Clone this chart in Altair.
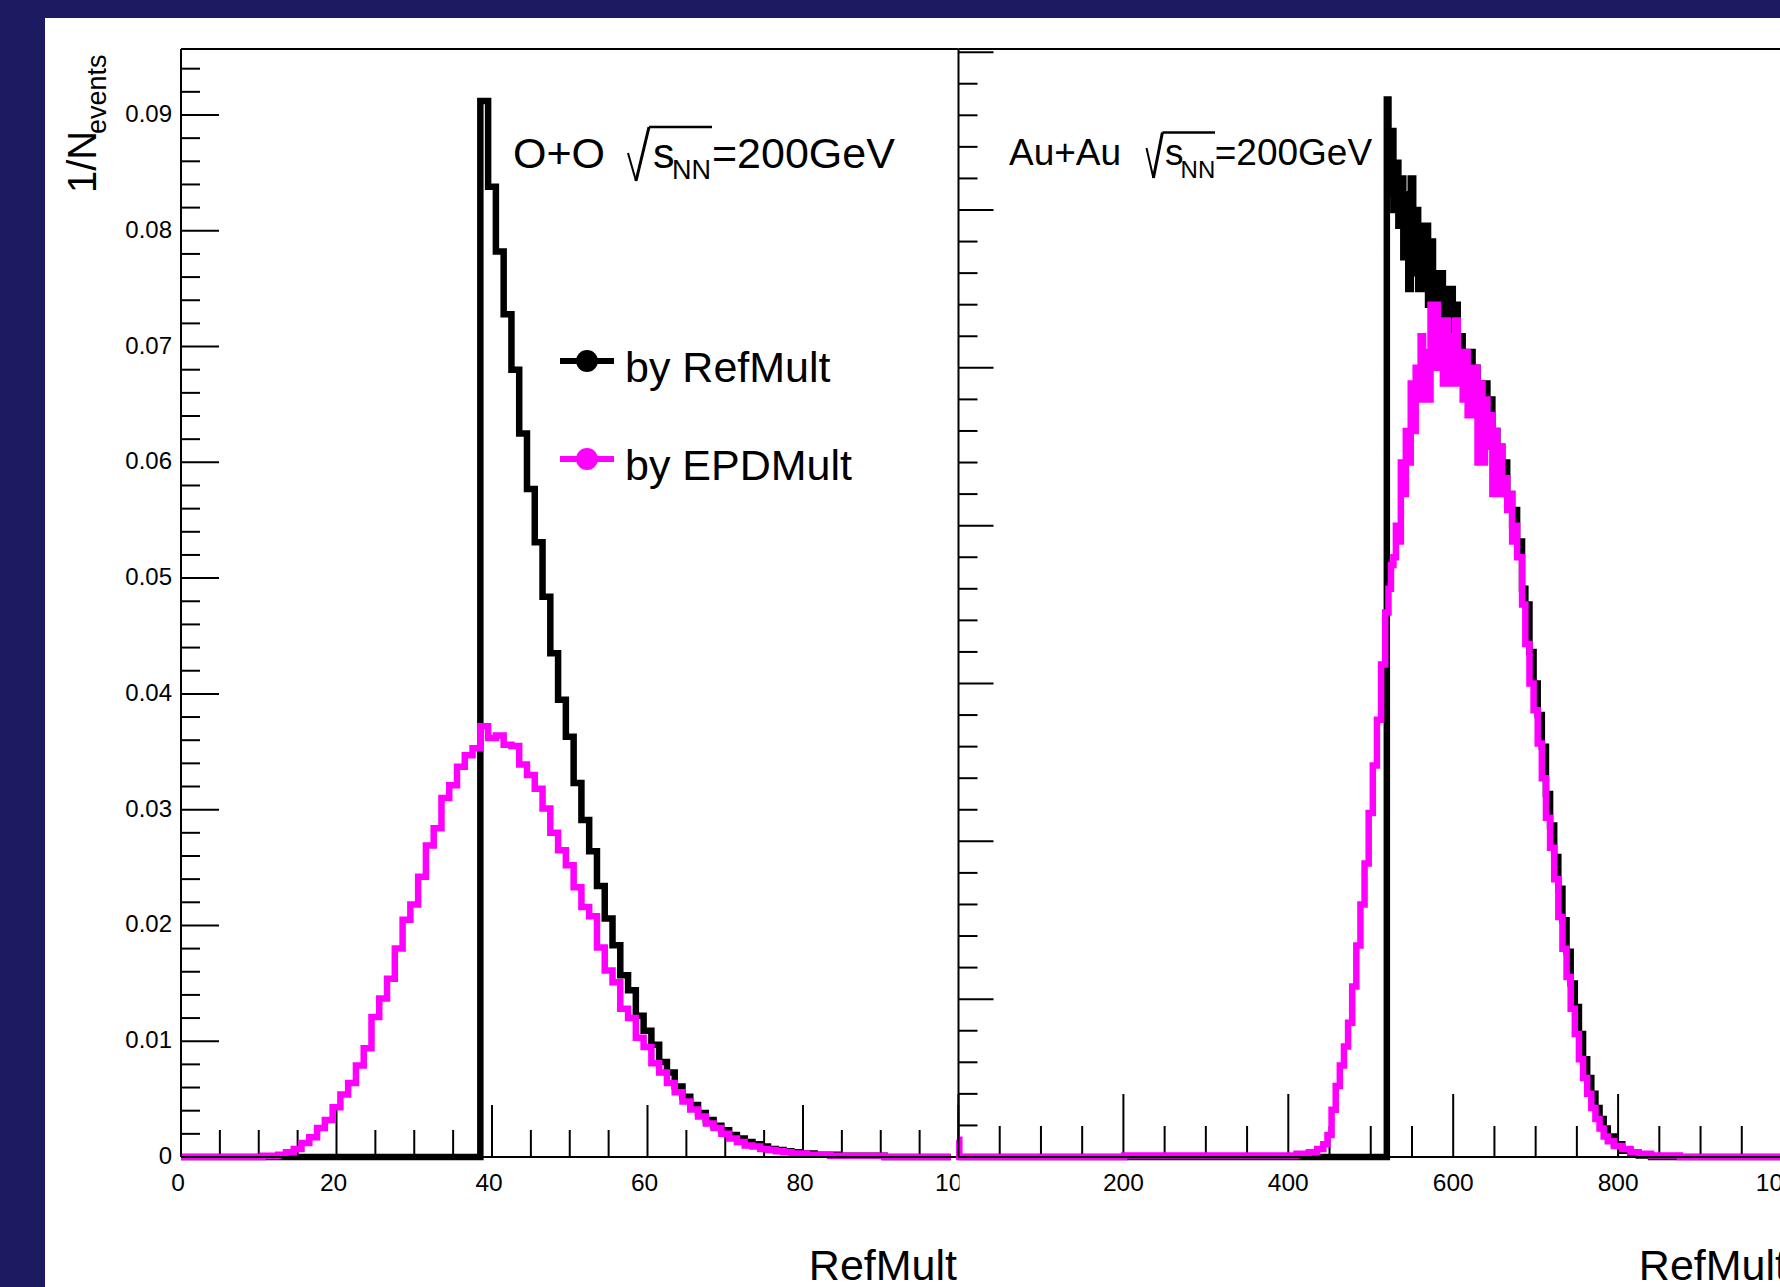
import altair as alt
import pandas as pd

# ---------------- data ----------------
# O+O, RefMult bins 0..99 (bin centres), normalised per event
oo_bins = list(range(100))
oo_refmult = ([0.0] * 39 +
              [0.0912, 0.0838, 0.0782, 0.0728, 0.0680, 0.0625, 0.0577, 0.0531, 0.0484, 0.0435,
               0.0395, 0.0363, 0.0323, 0.0291, 0.0264, 0.0234, 0.0206, 0.0183, 0.0157, 0.0144,
               0.0122, 0.0109, 0.0097, 0.0082, 0.0073, 0.0061, 0.0052, 0.0045, 0.0038, 0.0032,
               0.0027, 0.0023, 0.0019, 0.0016, 0.0013, 0.0011, 0.0009, 0.0007, 0.0006, 0.0005,
               0.0004, 0.0003, 0.0003, 0.0002, 0.0002, 0.0002, 0.0001, 0.0001, 0.0001, 0.0001,
               0.0001, 0.0001, 0.0, 0.0, 0.0, 0.0, 0.0, 0.0, 0.0, 0.0, 0.0])
oo_epdmult = ([0.0] * 11 +
              [0.0001, 0.0001, 0.0002, 0.0004, 0.0007, 0.0012, 0.0017, 0.0025, 0.0032, 0.0043,
               0.0054, 0.0064, 0.0079, 0.0094, 0.0121, 0.0137, 0.0154, 0.0180, 0.0205, 0.0218,
               0.0242, 0.0269, 0.0284, 0.0310, 0.0321, 0.0337, 0.0347, 0.0353, 0.0372, 0.0362,
               0.0364, 0.0356, 0.0355, 0.0339, 0.0330, 0.0318, 0.0301, 0.0280, 0.0265, 0.0252,
               0.0233, 0.0216, 0.0208, 0.0181, 0.0161, 0.0151, 0.0128, 0.0120, 0.0103, 0.0095,
               0.0081, 0.0073, 0.0064, 0.0056, 0.0048, 0.0041, 0.0035, 0.0029, 0.0025, 0.0020,
               0.0016, 0.0013, 0.0010, 0.0009, 0.0007, 0.0006, 0.0005, 0.0004, 0.0003, 0.0003,
               0.0002, 0.0002, 0.0002, 0.0001, 0.0001, 0.0001, 0.0001, 0.0001, 0.0001, 0.0001] +
              [0.0] * 9)

# Au+Au, RefMult
au_ref_x = [0, 519, 520, 523, 526, 529, 532, 535, 538, 541, 544, 547, 550, 553, 556, 559, 562, 565,
            568, 571, 574, 577, 580, 583, 586, 589, 592, 595, 598, 601, 604, 607, 610, 613, 616,
            619, 622, 625, 628, 631, 634, 637, 640, 643, 646, 649, 652, 655, 658, 661, 664, 667,
            670, 673, 676, 679, 682, 685, 690, 695, 700, 705, 710, 715, 720, 725, 730, 735, 740,
            745, 750, 755, 760, 765, 770, 775, 780, 785, 790, 800, 810, 820, 830, 850, 1000]
au_ref_y = [0, 0, 0.0067, 0.0061, 0.0065, 0.0060, 0.0063, 0.0059, 0.0062, 0.0057, 0.0061, 0.0055,
            0.0062, 0.0056, 0.0060, 0.0055, 0.0059, 0.0055, 0.0059, 0.0054, 0.0058, 0.0054, 0.0056,
            0.0053, 0.0056, 0.0052, 0.0055, 0.0052, 0.0055, 0.0051, 0.0054, 0.0051, 0.0052, 0.0050,
            0.0051, 0.0049, 0.0051, 0.0048, 0.0050, 0.0048, 0.0049, 0.0047, 0.0049, 0.0046, 0.0048,
            0.0045, 0.0046, 0.0044, 0.0045, 0.0043, 0.0044, 0.0042, 0.0042, 0.0040, 0.0041, 0.0039,
            0.0039, 0.0036, 0.0035, 0.0032, 0.0030, 0.0028, 0.0026, 0.0023, 0.0021, 0.0019, 0.0017,
            0.0015, 0.0013, 0.0011, 0.00095, 0.00078, 0.00062, 0.0005, 0.0004, 0.00031, 0.00024,
            0.00018, 0.00013, 0.00008, 0.00004, 0.00002, 0.00001, 0.0, 0.0]

# Au+Au, EPDMult
au_epd_x = [0, 2, 400, 420, 430, 440, 445, 450, 455, 460, 465, 470, 475, 480, 485, 490, 495, 500,
            505, 510, 515, 520, 523, 526, 529, 532, 535, 538, 541, 544, 547, 550, 553, 556, 559,
            562, 565, 568, 571, 574, 577, 580, 583, 586, 589, 592, 595, 598, 601, 604, 607, 610,
            613, 616, 619, 622, 625, 628, 631, 634, 637, 640, 643, 646, 649, 652, 655, 658, 661,
            664, 667, 670, 673, 676, 679, 682, 685, 690, 695, 700, 705, 710, 715, 720, 725, 730,
            735, 740, 745, 750, 755, 760, 765, 770, 775, 780, 785, 790, 800, 810, 820, 830, 850,
            900, 1000]
au_epd_y = [0.00011, 0.0, 0.00001, 0.00002, 0.00003, 0.00005, 0.00008, 0.00014, 0.0003, 0.00045,
            0.00058, 0.0007, 0.00085, 0.00108, 0.00134, 0.0016, 0.00186, 0.00218, 0.00248, 0.00277,
            0.00312, 0.00345, 0.0036, 0.00375, 0.0038, 0.0040, 0.0039, 0.0044, 0.0042, 0.0046,
            0.0044, 0.0049, 0.0046, 0.0050, 0.0048, 0.0052, 0.0048, 0.0051, 0.0048, 0.0054, 0.0050,
            0.0054, 0.0050, 0.0053, 0.0049, 0.0053, 0.0049, 0.0052, 0.0049, 0.0053, 0.0049, 0.0051,
            0.0048, 0.0051, 0.0047, 0.0050, 0.0047, 0.0050, 0.0044, 0.0049, 0.0044, 0.0048, 0.0045,
            0.0047, 0.0042, 0.0046, 0.0042, 0.0045, 0.0042, 0.0043, 0.0041, 0.0042, 0.0039, 0.0040,
            0.0038, 0.0038, 0.0035, 0.00325, 0.0030, 0.00283, 0.00262, 0.0024, 0.00215, 0.00196,
            0.00176, 0.00152, 0.00132, 0.00114, 0.00094, 0.00078, 0.00062, 0.0005, 0.0004, 0.00031,
            0.00024, 0.00018, 0.00013, 0.0001, 0.00007, 0.00005, 0.00003, 0.00002, 0.00001, 0.0, 0.0]

# axis ticks and labels
left_y_major = [0.0, 0.01, 0.02, 0.03, 0.04, 0.05, 0.06, 0.07, 0.08, 0.09]
left_y_labels = ["0", "0.01", "0.02", "0.03", "0.04", "0.05", "0.06", "0.07", "0.08", "0.09"]
left_y_minor = [round(0.002 * i, 4) for i in range(48) if i % 5 != 0]
left_x_major = [0, 20, 40, 60, 80, 100]
left_x_labels = ["0", "20", "40", "60", "80", "100"]
left_x_minor = [v for v in range(5, 100, 5) if v % 20 != 0]
right_y_major = [0.0, 0.001, 0.002, 0.003, 0.004, 0.005, 0.006, 0.007]
right_y_minor = [round(0.0002 * i, 5) for i in range(36) if i % 5 != 0]
right_x_major = [0, 200, 400, 600, 800, 1000]
right_x_label_vals = [200, 400, 600, 800, 1000]
right_x_labels = ["200", "400", "600", "800", "1000"]
right_x_minor = [v for v in range(50, 1000, 50) if v % 200 != 0]

# ---------------- layout ----------------
W, H = 1599, 1108
FONT = "Liberation Sans"
NAVY = "#1c1a61"
MAG = "#ff00ff"
LW = 6.5               # histogram line width
SPLIT = 777.5          # pixel where the right pad begins
X_L = [0, 100 * W / SPLIT]
PXU = 0.8245           # px per unit in the right pad
X_R = [-SPLIT / PXU, (W - SPLIT) / PXU]
Y_L = [0, 0.0957]
Y_R = [0, 0.00702]

ONE = pd.DataFrame({"k": [0]})


def ex(field, dom):
    return alt.X(field, type="quantitative", scale=alt.Scale(domain=dom, nice=False, zero=False), axis=None)


def ey(field, dom):
    return alt.Y(field, type="quantitative", scale=alt.Scale(domain=dom, nice=False, zero=False), axis=None)


def rule(x, x2, y, y2, w=2, color="black"):
    return alt.Chart(ONE).mark_rule(color=color, strokeWidth=w).encode(
        x=alt.value(x), x2=alt.value(x2), y=alt.value(y), y2=alt.value(y2))


def txt(s, x, y, size, align="left", baseline="alphabetic", angle=0, color="black"):
    return alt.Chart(ONE).mark_text(text=s, align=align, baseline=baseline, fontSize=size,
                                    font=FONT, angle=angle, color=color).encode(
        x=alt.value(x), y=alt.value(y))


def radical(x0, y0, x1, y1, x2, y2, x3):
    # square-root sign: short down stroke, long up stroke, overline
    return [rule(x0, x1, y0, y1, w=2), rule(x1, x2, y1, y2, w=3), rule(x2, x3, y2, y2, w=2.5)]


def yticks(vals, dom, x0, length):
    return alt.Chart(pd.DataFrame({"v": vals})).mark_rule(color="black", strokeWidth=2).encode(
        y=ey("v", dom), x=alt.value(x0), x2=alt.value(x0 + length))


def xticks(vals, dom, length):
    return alt.Chart(pd.DataFrame({"v": vals})).mark_rule(color="black", strokeWidth=2).encode(
        x=ex("v", dom), y=alt.value(H), y2=alt.value(H - length))


def xlabels(vals, labels, dom, dx=0):
    return alt.Chart(pd.DataFrame({"v": vals, "t": labels})).mark_text(
        align="center", baseline="middle", fontSize=24.5, font=FONT, color="black", dx=dx).encode(
        x=ex("v", dom), y=alt.value(1135), text="t:N")


df_oo = pd.DataFrame({"x": oo_bins, "ref": oo_refmult, "epd": oo_epdmult})
df_au_ref = pd.DataFrame({"x": au_ref_x, "y": au_ref_y})
df_au_epd = pd.DataFrame({"x": au_epd_x, "y": au_epd_y})

# ---------------- left pad: O+O ----------------
left = alt.layer(
    alt.Chart(ONE).mark_rect(color="white").encode(
        x=alt.value(-136), x2=alt.value(W), y=alt.value(-31), y2=alt.value(1238)),
    yticks(left_y_major, Y_L, 0, 38),
    yticks(left_y_minor, Y_L, 0, 19),
    xticks(left_x_major, X_L, 52),
    xticks(left_x_minor, X_L, 27),
    alt.Chart(pd.DataFrame({"v": left_y_major, "t": left_y_labels})).mark_text(
        align="right", baseline="middle", fontSize=24, font=FONT, color="black").encode(
        y=ey("v", Y_L), x=alt.value(-9), text="t:N"),
    xlabels(left_x_major, left_x_labels, X_L, dx=-3),
    alt.Chart(df_oo).mark_line(interpolate="step", color="black", strokeWidth=LW).encode(
        x=ex("x", X_L), y=ey("ref", Y_L)),
    alt.Chart(df_oo).mark_line(interpolate="step", color=MAG, strokeWidth=LW).encode(
        x=ex("x", X_L), y=ey("epd", Y_L)),
    rule(0, 0, 0, H),
    rule(0, SPLIT, 0, 0),
    rule(0, SPLIT, H, H),
    # annotation
    txt("O+O", 332, 119, 43),
    *radical(447, 104, 455, 132, 468, 78, 531),
    txt("s", 472, 119, 43),
    txt("NN", 491, 130, 27),
    txt("=200GeV", 531, 119, 43),
    # legend
    rule(379, 433, 312, 312, w=6),
    alt.Chart(ONE).mark_point(filled=True, size=480, color="black", opacity=1).encode(
        x=alt.value(406), y=alt.value(312)),
    txt("by RefMult", 444, 333, 43),
    rule(379, 433, 410, 410, w=6, color=MAG),
    alt.Chart(ONE).mark_point(filled=True, size=480, color=MAG, opacity=1).encode(
        x=alt.value(406), y=alt.value(410)),
    txt("by EPDMult", 444, 431, 43),
    # axis titles
    txt("1/N", -85, 144, 40, angle=270),
    txt("events", -75, 85, 27, angle=270),
    txt("RefMult", 776, 1231, 43, align="right"),
)

# ---------------- right pad: Au+Au ----------------
right = alt.layer(
    alt.Chart(ONE).mark_rect(color="white").encode(
        x=alt.value(SPLIT + 1), x2=alt.value(W), y=alt.value(-31), y2=alt.value(1238)),
    yticks(right_y_major, Y_R, SPLIT, 35),
    yticks(right_y_minor, Y_R, SPLIT, 19),
    xticks(right_x_major, X_R, 63),
    xticks(right_x_minor, X_R, 31),
    xlabels(right_x_label_vals, right_x_labels, X_R),
    alt.Chart(df_au_ref).mark_line(interpolate="step", color="black", strokeWidth=LW).encode(
        x=ex("x", X_R), y=ey("y", Y_R)),
    alt.Chart(df_au_epd).mark_line(interpolate="step", color=MAG, strokeWidth=LW).encode(
        x=ex("x", X_R), y=ey("y", Y_R)),
    rule(SPLIT, SPLIT, 0, H),
    rule(SPLIT, W, 0, 0),
    rule(SPLIT, W, H, H),
    txt("Au+Au", 828, 115.6, 37),
    *radical(965.5, 99, 972.4, 129, 981.4, 83.5, 1034),
    txt("s", 984, 115.6, 37),
    txt("NN", 999.6, 129, 24),
    txt("=200GeV", 1033.7, 115.6, 37),
    txt("RefMult", 1606, 1231, 43, align="right"),
)

chart = alt.layer(left, right).resolve_scale(x="independent", y="independent").properties(
    width=W, height=H,
    padding={"left": 181, "top": 49, "right": 0, "bottom": 130},
    autosize=alt.AutoSizeParams(type="none"),
    background=NAVY,
).configure_view(strokeWidth=0)

chart.save("out.html", embed_options={"renderer": "svg", "actions": False})
